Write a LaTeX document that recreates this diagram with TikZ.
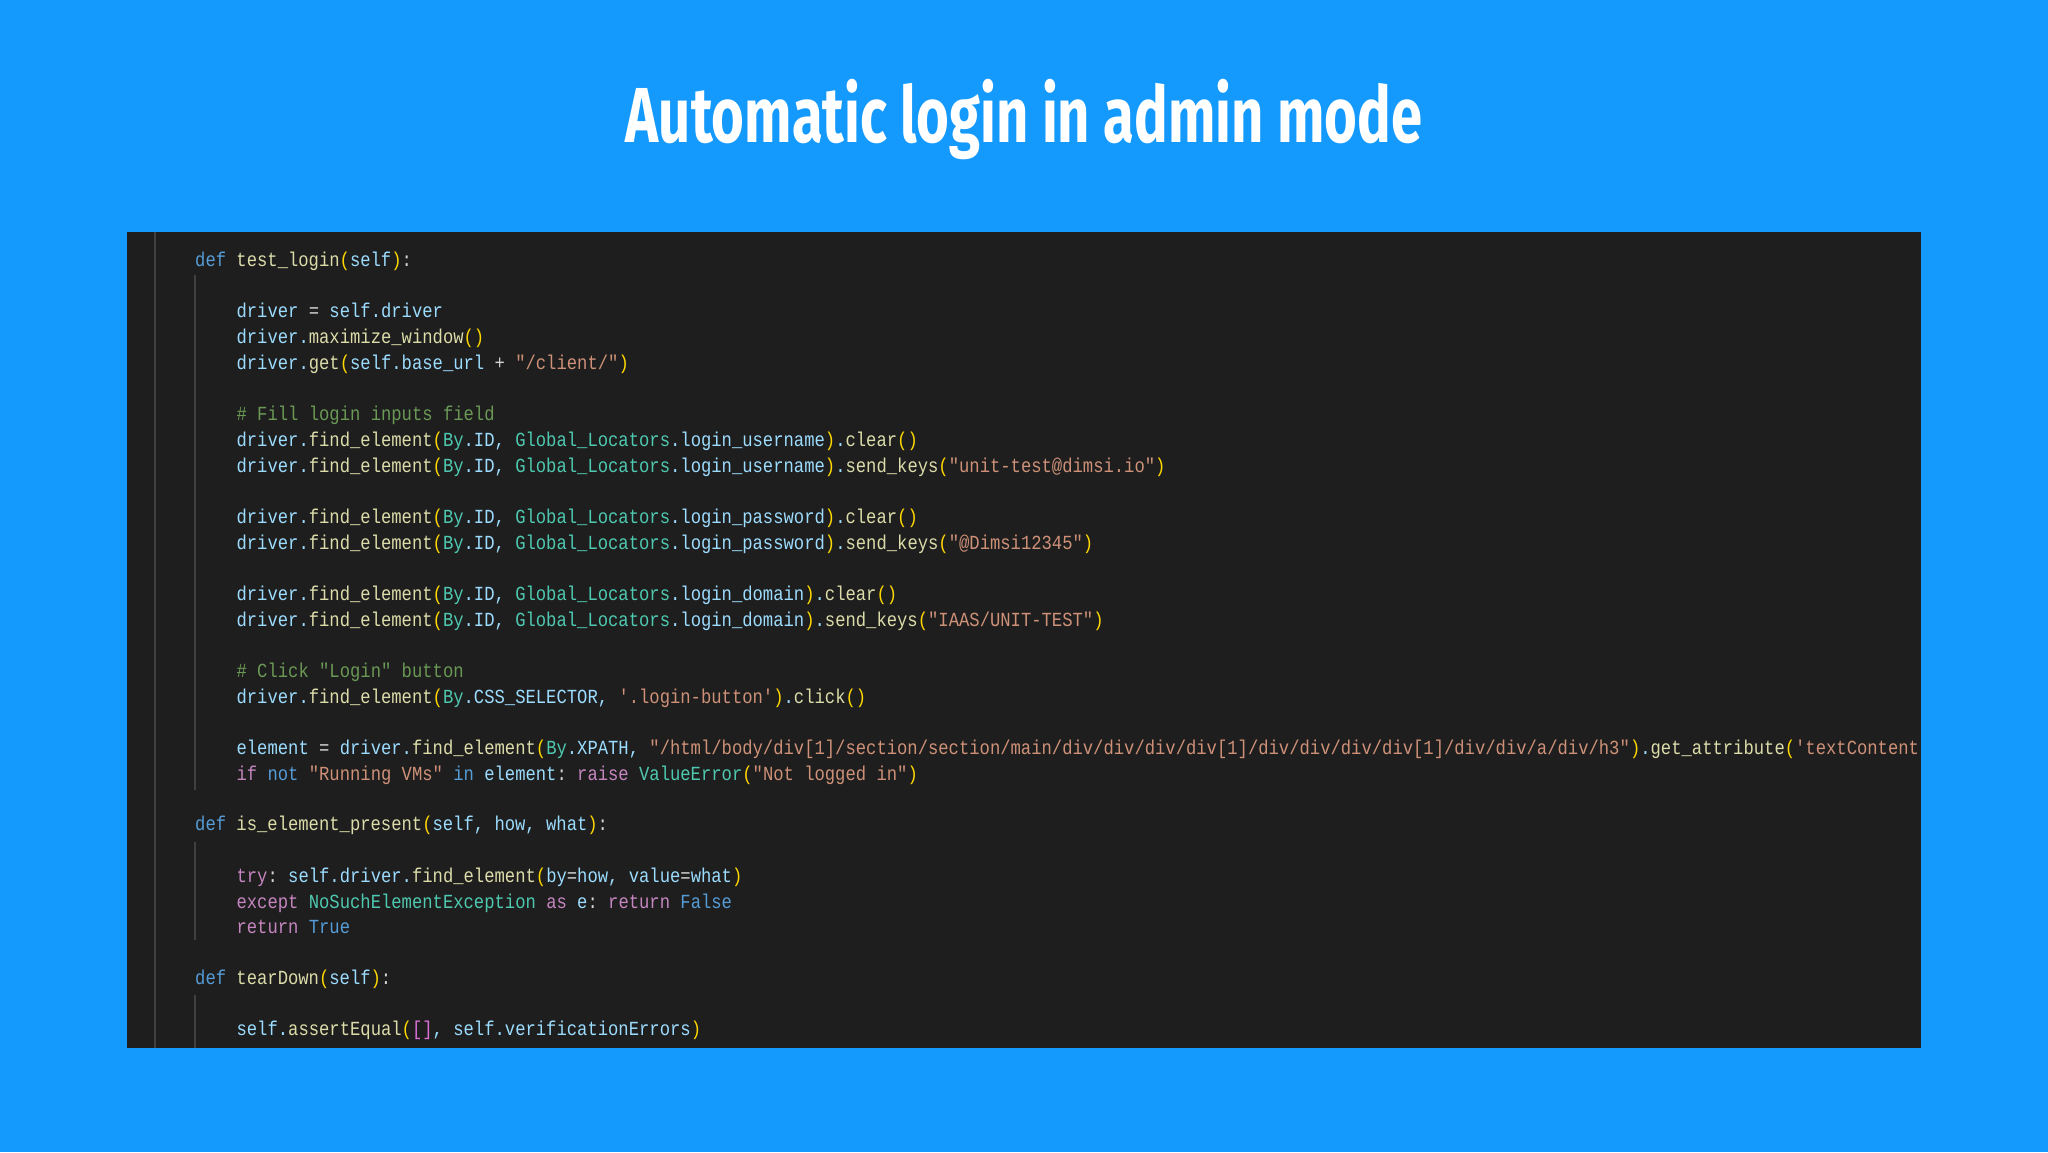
\documentclass[tikz,border=0pt]{standalone}
\usepackage{fontspec}
\setmonofont[FakeStretch=0.86]{Liberation Mono}
\newfontfamily\titlefont[FakeStretch=0.72]{Fira Sans}
\definecolor{bgblue}{HTML}{1499FC}
\definecolor{codebg}{HTML}{1E1E1E}
\definecolor{guide}{HTML}{404040}
\definecolor{kw}{HTML}{569CD6}
\definecolor{fn}{HTML}{DCDCAA}
\definecolor{var}{HTML}{9CDCFE}
\definecolor{str}{HTML}{CE9178}
\definecolor{cmt}{HTML}{6A9955}
\definecolor{cls}{HTML}{4EC9B0}
\definecolor{ctl}{HTML}{C586C0}
\definecolor{br}{HTML}{FFD700}
\definecolor{brb}{HTML}{DA70D6}
\definecolor{plain}{HTML}{D4D4D4}
\newcommand\Kd[1]{\textcolor{kw}{#1}}
\newcommand\Fn[1]{\textcolor{fn}{#1}}
\newcommand\Sq[1]{\textcolor{str}{#1}}
\newcommand\Cm[1]{\textcolor{cmt}{#1}}
\newcommand\Gc[1]{\textcolor{cls}{#1}}
\newcommand\Pk[1]{\textcolor{ctl}{#1}}
\newcommand\Yb[1]{\textcolor{br}{#1}}
\newcommand\Pb[1]{\textcolor{brb}{#1}}
\newcommand\Wt[1]{\textcolor{plain}{#1}}
\tikzset{
  codeline/.style={anchor=base west, inner sep=0pt, text=var,
    font=\ttfamily\fontsize{20}{24}\selectfont},
  guideline/.style={draw=guide, line width=1.2pt}
}
\begin{document}
\begin{tikzpicture}[x=1pt,y=-1pt]
\fill[bgblue] (0,0) rectangle (2048,1152);
\useasboundingbox (0,0) rectangle (2048,1152);
\node[text=white, font=\titlefont\bfseries\fontsize{78}{80}\selectfont] (title) at (1024,120) {Automatic login in admin mode};
\fill[codebg] (127,232) rectangle (1921,1048);
\draw[guideline] (155,232) -- (155,1048);
\draw[guideline] (195,275) -- (195,790);
\draw[guideline] (195,842) -- (195,940);
\draw[guideline] (195,995) -- (195,1048);
\begin{scope}
\clip (127,232) rectangle (1921,1048);
\def\bx{195}\def\ix{236.4}
\node[codeline] (l0) at (\bx,266) {\Kd{def} \Fn{test\_login}\Yb{(}self\Yb{)}\Wt{:}};
\node[codeline] (l2) at (\ix,317) {driver \Wt{=} self.driver};
\node[codeline] (l3) at (\ix,343) {driver.\Fn{maximize\_window}\Yb{()}};
\node[codeline] (l4) at (\ix,369) {driver.\Fn{get}\Yb{(}self.base\_url \Wt{+} \Sq{"/client/"}\Yb{)}};
\node[codeline] (l6) at (\ix,420) {\Cm{\# Fill login inputs field}};
\node[codeline] (l7) at (\ix,446) {driver.\Fn{find\_element}\Yb{(}\Gc{By}.ID, \Gc{Global\_Locators}.login\_username\Yb{)}.\Fn{clear}\Yb{()}};
\node[codeline] (l8) at (\ix,472) {driver.\Fn{find\_element}\Yb{(}\Gc{By}.ID, \Gc{Global\_Locators}.login\_username\Yb{)}.\Fn{send\_keys}\Yb{(}\Sq{"unit-test@dimsi.io"}\Yb{)}};
\node[codeline] (l10) at (\ix,523) {driver.\Fn{find\_element}\Yb{(}\Gc{By}.ID, \Gc{Global\_Locators}.login\_password\Yb{)}.\Fn{clear}\Yb{()}};
\node[codeline] (l11) at (\ix,549) {driver.\Fn{find\_element}\Yb{(}\Gc{By}.ID, \Gc{Global\_Locators}.login\_password\Yb{)}.\Fn{send\_keys}\Yb{(}\Sq{"@Dimsi12345"}\Yb{)}};
\node[codeline] (l13) at (\ix,600) {driver.\Fn{find\_element}\Yb{(}\Gc{By}.ID, \Gc{Global\_Locators}.login\_domain\Yb{)}.\Fn{clear}\Yb{()}};
\node[codeline] (l14) at (\ix,626) {driver.\Fn{find\_element}\Yb{(}\Gc{By}.ID, \Gc{Global\_Locators}.login\_domain\Yb{)}.\Fn{send\_keys}\Yb{(}\Sq{"IAAS/UNIT-TEST"}\Yb{)}};
\node[codeline] (l16) at (\ix,677) {\Cm{\# Click "Login" button}};
\node[codeline] (l17) at (\ix,703) {driver.\Fn{find\_element}\Yb{(}\Gc{By}.CSS\_SELECTOR, \Sq{'.login-button'}\Yb{)}.\Fn{click}\Yb{()}};
\node[codeline] (l19) at (\ix,754) {element \Wt{=} driver.\Fn{find\_element}\Yb{(}\Gc{By}.XPATH, \Sq{"/html/body/div[1]/section/section/main/div/div/div/div[1]/div/div/div/div[1]/div/div/a/div/h3"}\Yb{)}.\Fn{get\_attribute}\Yb{(}\Sq{'textContent'}\Yb{)}};
\node[codeline] (l20) at (\ix,780) {\Pk{if} \Kd{not} \Sq{"Running VMs"} \Kd{in} element\Wt{:} \Pk{raise} \Gc{ValueError}\Yb{(}\Sq{"Not logged in"}\Yb{)}};
\node[codeline] (l22) at (\bx,830) {\Kd{def} \Fn{is\_element\_present}\Yb{(}self, how, what\Yb{)}\Wt{:}};
\node[codeline] (l24) at (\ix,882) {\Pk{try}\Wt{:} self.driver.\Fn{find\_element}\Yb{(}by\Wt{=}how, value\Wt{=}what\Yb{)}};
\node[codeline] (l25) at (\ix,908) {\Pk{except} \Gc{NoSuchElementException} \Pk{as} e\Wt{:} \Pk{return} \Kd{False}};
\node[codeline] (l26) at (\ix,933) {\Pk{return} \Kd{True}};
\node[codeline] (l28) at (\bx,984) {\Kd{def} \Fn{tearDown}\Yb{(}self\Yb{)}\Wt{:}};
\node[codeline] (l30) at (\ix,1035) {self.\Fn{assertEqual}\Yb{(}\Pb{[]}, self.verificationErrors\Yb{)}};
\end{scope}
\end{tikzpicture}
\end{document}
